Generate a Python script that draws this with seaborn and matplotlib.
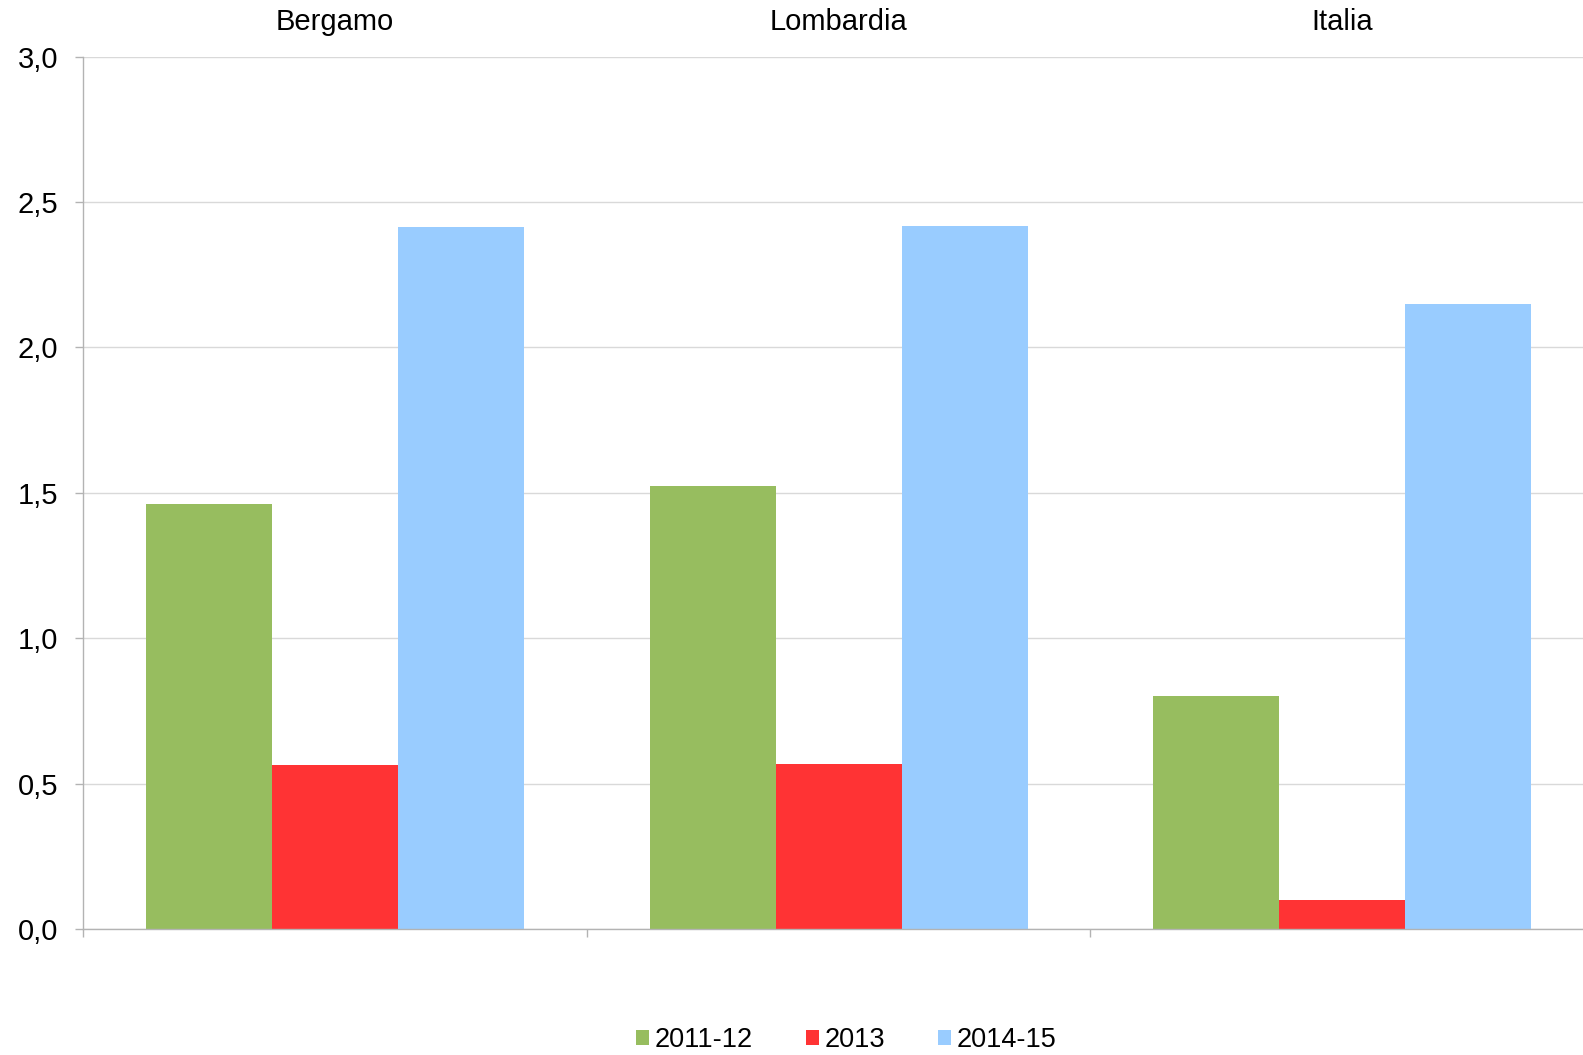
import pandas as pd
import matplotlib
matplotlib.use('Agg')
import matplotlib.pyplot as plt
from matplotlib.ticker import FuncFormatter
import seaborn as sns

# dati
aree = ['Bergamo', 'Lombardia', 'Italia']
periodi = ['2011-12', '2013', '2014-15']
v_2011_12 = [1.46, 1.525, 0.80]
v_2013 = [0.565, 0.567, 0.10]
v_2014_15 = [2.415, 2.418, 2.15]
colori = ['#97BD5F', '#FF3334', '#99CCFF']

righe = []
for serie, valori in zip(periodi, [v_2011_12, v_2013, v_2014_15]):
    for area, v in zip(aree, valori):
        righe.append({'area': area, 'periodo': serie, 'valore': v})
df = pd.DataFrame(righe)

sns.set_style('white')
plt.rcParams['font.family'] = ['Liberation Sans', 'DejaVu Sans']
plt.rcParams['text.color'] = 'black'
plt.rcParams['xtick.labelcolor'] = 'black'
plt.rcParams['ytick.labelcolor'] = 'black'

fig = plt.figure(figsize=(15.83, 10.55), dpi=100)
ax = fig.add_axes([0.0524, 0.1194, 0.9547, 0.827])

sns.barplot(data=df, x='area', y='valore', hue='periodo', order=aree,
            hue_order=periodi, palette=colori, saturation=1, width=0.75,
            linewidth=0, ax=ax, zorder=2)

ax.set_ylim(0, 3.0)
ax.set_xlim(-0.5, 2.5)
ax.set_yticks([0, 0.5, 1.0, 1.5, 2.0, 2.5, 3.0])
ax.yaxis.set_major_formatter(FuncFormatter(lambda v, p: f'{v:.1f}'.replace('.', ',')))
ax.grid(axis='y', color='#D9D9D9', lw=1, zorder=0)
ax.set_axisbelow(True)
ax.set_xlabel('')
ax.set_ylabel('')

for s in ['top', 'right']:
    ax.spines[s].set_visible(False)
for s in ['left', 'bottom']:
    ax.spines[s].set_color('#B3B3B3')
    ax.spines[s].set_linewidth(1)

# etichette delle aree in alto, tacche ai confini dei gruppi in basso
ax.tick_params(axis='x', which='major', bottom=False, top=False,
               labelbottom=False, labeltop=True, labelsize=21, pad=11)
ax.set_xticks([-0.5, 0.5, 1.5], minor=True)
ax.tick_params(axis='x', which='minor', bottom=True, top=False,
               length=6, width=1, color='#B3B3B3')
ax.tick_params(axis='y', left=True, length=6, width=1, color='#B3B3B3',
               labelsize=21, pad=12)

ax.legend(loc='center', bbox_to_anchor=(0.505, -0.127), ncol=3, frameon=False,
          fontsize=19.5, handlelength=0.5, handleheight=0.5,
          handletextpad=0.2, columnspacing=1.95)

fig.savefig('out.png', dpi=100)
